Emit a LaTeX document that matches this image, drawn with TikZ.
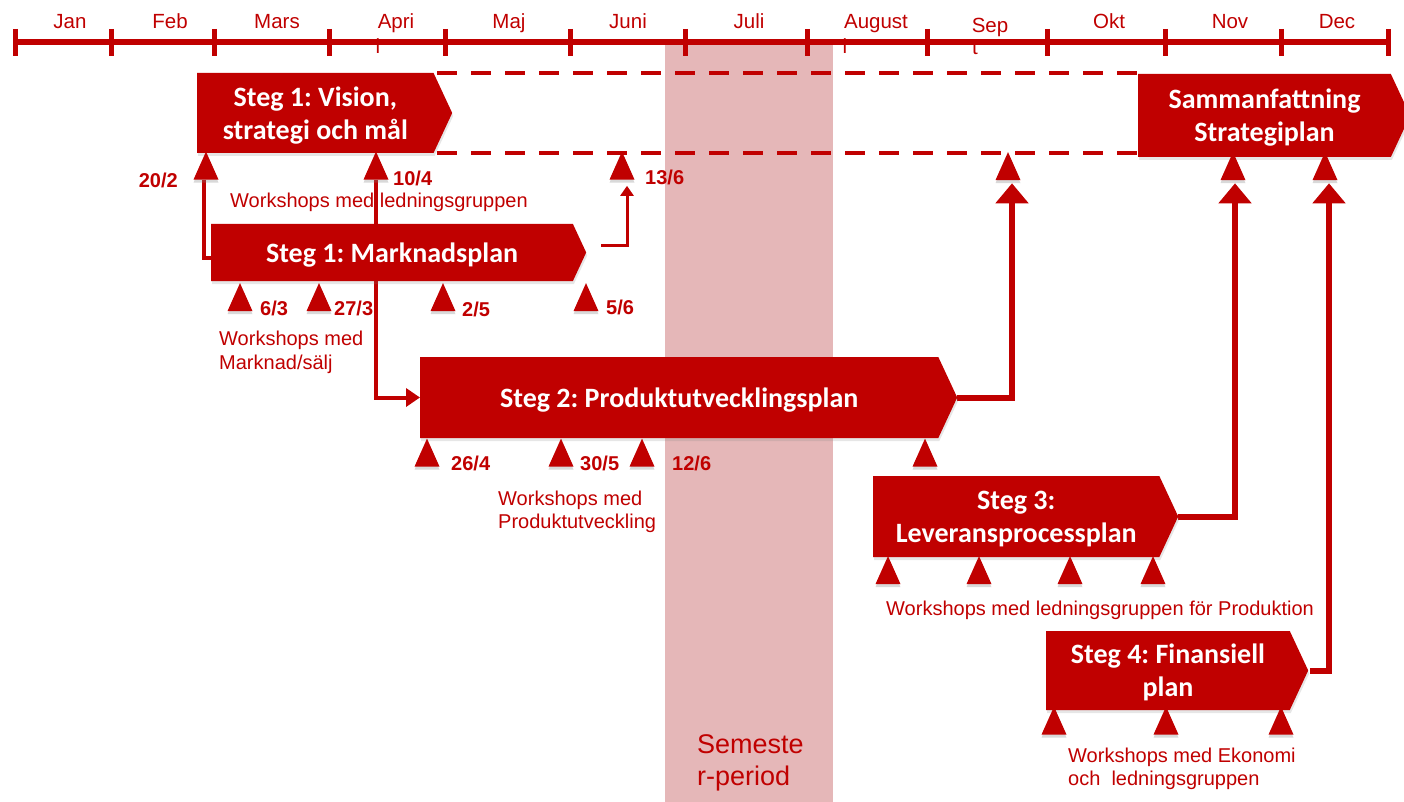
\documentclass[tikz,border=0pt]{standalone}
\usepackage{fontspec}
\setmainfont{Liberation Sans}
\newfontfamily\boxfont{Carlito}
\usetikzlibrary{shapes.geometric, shapes.symbols, arrows.meta, positioning, backgrounds, shadows}
\definecolor{stegred}{RGB}{192,0,0}
\definecolor{sempink}{RGB}{229,183,184}
\frenchspacing
\tikzset{
	stegbox/.style={signal, signal to=east, signal pointer angle=130, fill=stegred, text=white, font=\boxfont\bfseries\fontsize{28}{33}\selectfont, align=center, inner sep=0pt, text depth=0pt, anchor=west, drop shadow={shadow xshift=1pt, shadow yshift=-3pt, opacity=.2}},
	milestone/.style={isosceles triangle, isosceles triangle stretches, shape border rotate=90, minimum width=25pt, minimum height=28pt, inner sep=0pt, fill=stegred, drop shadow={shadow xshift=0pt, shadow yshift=-3pt, opacity=.3}},
	datum/.style={font=\bfseries\fontsize{20}{24}\selectfont, text=stegred, anchor=west, inner sep=0pt},
	wstext/.style={font=\fontsize{20}{23.5}\selectfont, text=stegred, align=left, anchor=west, inner sep=0pt},
	month/.style={font=\fontsize{20.5}{24}\selectfont, text=stegred, anchor=base, inner sep=0pt},
	link/.style={draw=stegred, line width=4pt, -{Triangle[width=18pt,length=14pt]}},
	biglink/.style={draw=stegred, line width=6pt, -{Triangle[width=32pt,length=20pt]}, shorten >=3pt},
	planline/.style={draw=stegred, line width=4.5pt, dash pattern=on 20pt off 14pt}
}

\begin{document}
\begin{tikzpicture}[x=1pt, y=-1pt]
	\useasboundingbox (0,0) rectangle (1404,802); 

	% --- semester and timeline --- 
	\begin{scope}[on background layer]
		\fill[sempink] (665,44) rectangle (833,802); 
	\end{scope}
	\node[month, font=\fontsize{27}{32}\selectfont, align=left, anchor=west] (sem) at (697,763) {Semeste\\r-period}; 

	\node[month] (stray1) at (378,54) {l}; 
	\node[month] (stray2) at (845,54) {l}; 
	\node[month] (stray3) at (975,55) {t}; 
	\draw[stegred, line width=6pt] (15,42) -- (1388,42); 
	\draw[stegred, line width=5pt] (15,29) -- (15,56) (111,29) -- (111,56) (214,29) -- (214,56) (329,29) -- (329,56) (445,29) -- (445,56) (570,29) -- (570,56) (685,29) -- (685,56) (807,29) -- (807,56) (927,29) -- (927,56) (1047,29) -- (1047,56) (1165,29) -- (1165,56) (1281,29) -- (1281,56) (1388,29) -- (1388,56); 
	\node[month] (jan) at (70,29) {Jan}; 
	\node[month] (feb) at (170,29) {Feb}; 
	\node[month] (mar) at (277,29) {Mars}; 
	\node[month] (apr) at (396,29) {Apri}; 
	\node[month] (maj) at (509,29) {Maj}; 
	\node[month] (jun) at (628,29) {Juni}; 
	\node[month] (jul) at (749,29) {Juli}; 
	\node[month] (aug) at (876,29) {August}; 
	\node[month] (sep) at (990,33) {Sep}; 
	\node[month] (okt) at (1109,29) {Okt}; 
	\node[month] (nov) at (1230,29) {Nov}; 
	\node[month] (dec) at (1337,29) {Dec}; 

	% --- steps --- 
	\node[stegbox, minimum width=255pt, minimum height=80pt] (vision) at (197,113) {Steg 1: Vision,\\strategi och mål}; 
	\node[stegbox, minimum width=272pt, minimum height=83pt] (samman) at (1138,115.5) {Sammanfattning\\Strategiplan}; 
	\node[stegbox, minimum width=375pt, minimum height=57pt] (marknad) at (211,252.5) {Steg 1: Marknadsplan}; 
	\node[stegbox, minimum width=537pt, minimum height=81pt] (produkt) at (420,397.5) {Steg 2: Produktutvecklingsplan}; 
	\node[stegbox, minimum width=305pt, minimum height=81pt] (leverans) at (873,516.5) {Steg 3:\\Leveransprocessplan}; 
	\node[stegbox, minimum width=262pt, minimum height=79pt] (finans) at (1046,670.5) {Steg 4: Finansiell\\plan}; 

	\draw[planline] ([xshift=-15pt]vision.north -| vision.east) -- (vision.north -| samman.west); 
	\draw[planline] ([xshift=-15pt]vision.south -| vision.east) -- (vision.south -| samman.west); 

	% --- milestones --- 
	\node[milestone] (t202) at (206,171.5) {}; 
	\node[milestone] (t104) at (376,171.5) {}; 
	\node[milestone] (t136) at (622,171.5) {}; 
	\node[milestone] (tsep) at (1008,172) {}; 
	\node[milestone] (tnov) at (1233,172) {}; 
	\node[milestone] (tdec) at (1325,172) {}; 
	\node[milestone] (t63) at (240,303) {}; 
	\node[milestone] (t273) at (319,303) {}; 
	\node[milestone] (t25) at (443,303) {}; 
	\node[milestone] (t56) at (586,303) {}; 
	\node[milestone] (t264) at (427,458.5) {}; 
	\node[milestone] (t305) at (561,458.5) {}; 
	\node[milestone] (t126) at (642,458.5) {}; 
	\node[milestone] (tlev) at (925,458.5) {}; 
	\node[milestone] (pa) at (888,576) {}; 
	\node[milestone] (pb) at (979,576) {}; 
	\node[milestone] (pc) at (1070,576) {}; 
	\node[milestone] (pd) at (1153,576) {}; 
	\node[milestone] (ea) at (1054,726.5) {}; 
	\node[milestone] (eb) at (1166,726.5) {}; 
	\node[milestone] (ec) at (1281,726.5) {}; 

	\node[datum, anchor=east] (d202) at (178,180) {20/2}; 
	\node[datum] (d104) at (393,178) {10/4}; 
	\node[datum] (d136) at (645,177) {13/6}; 
	\node[datum] (d63) at (260,308) {6/3}; 
	\node[datum] (d273) at (334,308) {27/3}; 
	\node[datum] (d25) at (462,309) {2/5}; 
	\node[datum] (d56) at (606,307) {5/6}; 
	\node[datum] (d264) at (451,463) {26/4}; 
	\node[datum] (d305) at (580,463) {30/5}; 
	\node[datum] (d126) at (672,463) {12/6}; 

	\node[wstext] (wsled) at (230,202) {Workshops med ledningsgruppen}; 
	\node[wstext] (wsmark) at (219,352.5) {Workshops med\\Marknad/sälj}; 
	\node[wstext] (wsprod) at (498,512) {Workshops med\\Produktutveckling}; 
	\node[wstext] (wslev) at (886,610) {Workshops med ledningsgruppen för Produktion}; 
	\node[wstext] (wseko) at (1068,769) {Workshops med Ekonomi\\och\ \ ledningsgruppen}; 

	% --- connectors --- 
	\begin{scope}[on background layer]
		\draw[link, shorten >=-16pt] ([xshift=-2pt]t202.lower side) |- ([yshift=-5pt]marknad.west); 
		\draw[link] (t104.lower side) |- (produkt.west); 
		\draw[link, line width=3pt, -{Triangle[width=13pt,length=10pt]}, shorten >=6pt] ([xshift=15pt, yshift=7pt]marknad.east) -| ([xshift=5pt]t136.lower side); 
		\draw[biglink] (produkt.east) -| ([xshift=4pt]tsep.lower side); 
		\draw[biglink] (leverans.east) -| ([xshift=2pt]tnov.lower side); 
		\draw[biglink] ([xshift=2pt]finans.east) -| ([xshift=4pt]tdec.lower side); 
	\end{scope}
\end{tikzpicture}
\end{document}
